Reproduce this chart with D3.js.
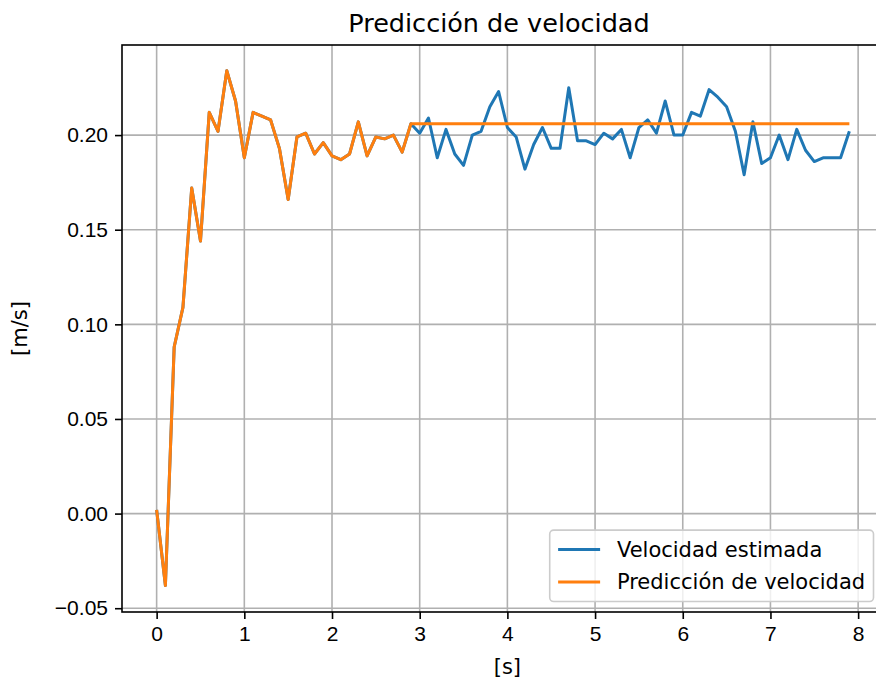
<!DOCTYPE html>
<html>
<head>
<meta charset="utf-8">
<script src="https://cdn.jsdelivr.net/npm/d3@7"></script>
<style>
  body { margin: 0; background: #fff; }
  svg { display: block; font-family: "DejaVu Sans", sans-serif; }
</style>
</head>
<body>
<div id="chart"></div>
<script>
// time axis [s]
const tiempo = [
  0.0, 0.1, 0.2, 0.3, 0.4, 0.5, 0.6, 0.7, 0.8, 0.9,
  1.0, 1.1, 1.2, 1.3, 1.4, 1.5, 1.6, 1.7, 1.8, 1.9,
  2.0, 2.1, 2.2, 2.3, 2.4, 2.5, 2.6, 2.7, 2.8, 2.9,
  3.0, 3.1, 3.2, 3.3, 3.4, 3.5, 3.6, 3.7, 3.8, 3.9,
  4.0, 4.1, 4.2, 4.3, 4.4, 4.5, 4.6, 4.7, 4.8, 4.9,
  5.0, 5.1, 5.2, 5.3, 5.4, 5.5, 5.6, 5.7, 5.8, 5.9,
  6.0, 6.1, 6.2, 6.3, 6.4, 6.5, 6.6, 6.7, 6.8, 6.9,
  7.0, 7.1, 7.2, 7.3, 7.4, 7.5, 7.6, 7.7, 7.8, 7.9
];

const velEstimada = [
  0.002, -0.038, 0.088, 0.109, 0.172, 0.144, 0.212, 0.202, 0.234, 0.218,
  0.188, 0.212, 0.210, 0.208, 0.193, 0.166, 0.199, 0.201, 0.190, 0.196,
  0.189, 0.187, 0.190, 0.207, 0.189, 0.199, 0.198, 0.200, 0.191, 0.206,
  0.201, 0.209, 0.188, 0.203, 0.190, 0.184, 0.200, 0.202, 0.215, 0.223,
  0.204, 0.199, 0.182, 0.195, 0.204, 0.193, 0.193, 0.225, 0.197, 0.197,
  0.195, 0.201, 0.198, 0.203, 0.188, 0.204, 0.208, 0.201, 0.218, 0.200,
  0.200, 0.212, 0.210, 0.224, 0.220, 0.215, 0.202, 0.179, 0.207, 0.185,
  0.188, 0.200, 0.187, 0.203, 0.192, 0.186, 0.188, 0.188, 0.188, 0.202
];

const velPrediccion = [
  0.002, -0.038, 0.088, 0.109, 0.172, 0.144, 0.212, 0.202, 0.234, 0.218,
  0.188, 0.212, 0.210, 0.208, 0.193, 0.166, 0.199, 0.201, 0.190, 0.196,
  0.189, 0.187, 0.190, 0.207, 0.189, 0.199, 0.198, 0.200, 0.191, 0.206,
  0.206, 0.206, 0.206, 0.206, 0.206, 0.206, 0.206, 0.206, 0.206, 0.206,
  0.206, 0.206, 0.206, 0.206, 0.206, 0.206, 0.206, 0.206, 0.206, 0.206,
  0.206, 0.206, 0.206, 0.206, 0.206, 0.206, 0.206, 0.206, 0.206, 0.206,
  0.206, 0.206, 0.206, 0.206, 0.206, 0.206, 0.206, 0.206, 0.206, 0.206,
  0.206, 0.206, 0.206, 0.206, 0.206, 0.206, 0.206, 0.206, 0.206, 0.206
];

const xTicks = [0, 1, 2, 3, 4, 5, 6, 7, 8];
const yTicks = [-0.05, 0.00, 0.05, 0.10, 0.15, 0.20];
const seriesNames = ["Velocidad estimada", "Predicción de velocidad"];
const seriesColors = ["#1f77b4", "#ff7f0e"];

const W = 876, H = 683;
const margin = { top: 45, left: 122 };
const plotW = 762, plotH = 567;
const fs = 21;

const svg = d3.select("#chart").append("svg")
    .attr("width", W)
    .attr("height", H);

const g = svg.append("g")
    .attr("transform", `translate(${margin.left},${margin.top})`);

const x = d3.scaleLinear().domain([-0.395, 8.295]).range([0, plotW]);
const y = d3.scaleLinear().domain([-0.052, 0.2476]).range([plotH, 0]);

// grid
g.append("g").selectAll("line")
    .data(xTicks).enter().append("line")
    .attr("x1", d => x(d)).attr("x2", d => x(d))
    .attr("y1", 0).attr("y2", plotH)
    .attr("stroke", "#b0b0b0").attr("stroke-width", 1.6);
g.append("g").selectAll("line")
    .data(yTicks).enter().append("line")
    .attr("x1", 0).attr("x2", plotW)
    .attr("y1", d => y(d)).attr("y2", d => y(d))
    .attr("stroke", "#b0b0b0").attr("stroke-width", 1.6);

svg.append("clipPath").attr("id", "clip")
    .append("rect").attr("width", plotW).attr("height", plotH);

const line = d3.line()
    .x((d, i) => x(tiempo[i]))
    .y(d => y(d));

[velEstimada, velPrediccion].forEach((serie, k) => {
    g.append("path")
        .datum(serie)
        .attr("clip-path", "url(#clip)")
        .attr("fill", "none")
        .attr("stroke", seriesColors[k])
        .attr("stroke-width", 3)
        .attr("stroke-linejoin", "round")
        .attr("d", line);
});

// axes
const xAxis = g.append("g")
    .attr("transform", `translate(0,${plotH})`)
    .call(d3.axisBottom(x).tickValues(xTicks).tickFormat(d3.format("d")).tickSize(7).tickPadding(7).tickSizeOuter(0));
const yAxis = g.append("g")
    .call(d3.axisLeft(y).tickValues(yTicks).tickFormat(d3.format(".2f")).tickSize(7).tickPadding(7).tickSizeOuter(0));
[xAxis, yAxis].forEach(a => {
    a.select(".domain").remove();
    a.selectAll("line").attr("stroke", "#000").attr("stroke-width", 1.6);
    a.selectAll("text").attr("fill", "#000").style("font-size", fs + "px");
});

// spines
g.append("rect")
    .attr("width", plotW).attr("height", plotH)
    .attr("fill", "none").attr("stroke", "#000").attr("stroke-width", 1.6);

// labels
svg.append("text")
    .attr("x", margin.left + plotW / 2 - 4).attr("y", 32)
    .attr("text-anchor", "middle")
    .style("font-size", "25.5px")
    .text("Predicción de velocidad");

svg.append("text")
    .attr("x", margin.left + x(4)).attr("y", 674)
    .attr("text-anchor", "middle")
    .style("font-size", fs + "px")
    .text("[s]");

svg.append("text")
    .attr("transform", `translate(27,${margin.top + plotH / 2}) rotate(-90)`)
    .attr("text-anchor", "middle")
    .style("font-size", fs + "px")
    .text("[m/s]");

// legend (lower right)
const leg = g.append("g");
const labels = leg.selectAll("text").data(seriesNames).enter().append("text")
    .style("font-size", fs + "px")
    .text(d => d);
const textW = d3.max(labels.nodes(), n => n.getComputedTextLength());
const rowH = fs * 1.05, pad = 0.4 * fs;
const boxW = 2 * pad + 2 * fs + 0.8 * fs + textW;
const boxH = 2 * pad + 2 * rowH + 0.5 * fs;
const boxX = plotW - 0.5 * fs - boxW;
const boxY = plotH - 0.5 * fs - boxH;
leg.insert("rect", "text")
    .attr("x", boxX).attr("y", boxY)
    .attr("width", boxW).attr("height", boxH)
    .attr("rx", 4)
    .attr("fill", "#fff").attr("fill-opacity", 0.8)
    .attr("stroke", "#cccccc").attr("stroke-width", 1.6);
seriesNames.forEach((s, i) => {
    const cy = boxY + pad + rowH / 2 + i * (rowH + 0.5 * fs);
    leg.append("line")
        .attr("x1", boxX + pad).attr("x2", boxX + pad + 2 * fs)
        .attr("y1", cy).attr("y2", cy)
        .attr("stroke", seriesColors[i]).attr("stroke-width", 3);
});
labels
    .attr("x", boxX + pad + 2.8 * fs)
    .attr("y", (d, i) => boxY + pad + rowH / 2 + i * (rowH + 0.5 * fs))
    .attr("dy", "0.35em");
</script>
</body>
</html>
